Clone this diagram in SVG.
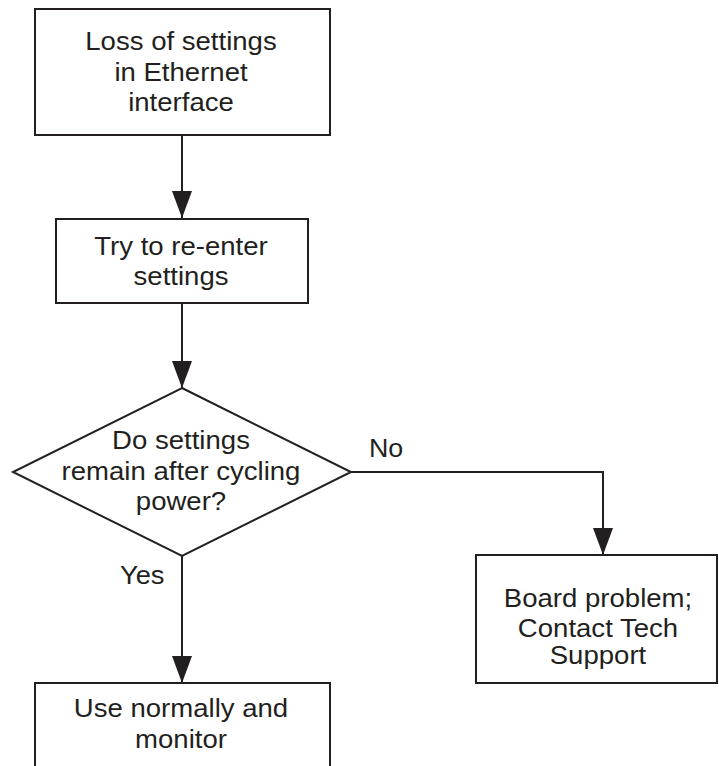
<svg xmlns="http://www.w3.org/2000/svg" width="719" height="766" viewBox="0 0 719 766">
<style>
.n{fill:#fff;stroke:#231f20;stroke-width:2}
.c{fill:none;stroke:#231f20;stroke-width:2}
text{font-family:"Liberation Sans",Arial,sans-serif;font-size:26px;fill:#231f20}
.m{text-anchor:middle}
</style>
<defs>
<marker id="ah" markerUnits="userSpaceOnUse" markerWidth="28" markerHeight="22" refX="27" refY="10" orient="auto">
<path d="M0,0 L27,10 L0,20 Z" fill="#231f20"/>
</marker>
</defs>
<rect width="719" height="766" fill="#fff"/>
<g id="connectors">
<line class="c" x1="182" y1="135" x2="182" y2="218" marker-end="url(#ah)"/>
<line class="c" x1="182" y1="303" x2="182" y2="388" marker-end="url(#ah)"/>
<polyline class="c" points="351,472 603,472 603,555" marker-end="url(#ah)"/>
<line class="c" x1="182" y1="556" x2="182" y2="683" marker-end="url(#ah)"/>
<text transform="translate(369,457) scale(1.03,1)">No</text>
<text transform="translate(120,584) scale(1.05,1)">Yes</text>
</g>
<g id="n1">
<rect class="n" x="35" y="9" width="295" height="126"/>
<g transform="translate(181,0) scale(1.06,1)">
<text class="m" x="0" y="50">Loss of settings</text>
<text class="m" x="0" y="81">in Ethernet</text>
<text class="m" x="0" y="111">interface</text>
</g>
</g>
<g id="n2">
<rect class="n" x="56" y="219" width="252" height="84"/>
<g transform="translate(181,0) scale(1.06,1)">
<text class="m" x="0" y="255">Try to re-enter</text>
<text class="m" x="0" y="285">settings</text>
</g>
</g>
<g id="n3">
<polygon class="n" points="182,388 351,472 182,556 13,472"/>
<g transform="translate(181,0) scale(1.06,1)">
<text class="m" x="0" y="449">Do settings</text>
<text class="m" x="0" y="480">remain after cycling</text>
<text class="m" x="0" y="510">power?</text>
</g>
</g>
<g id="n4">
<rect class="n" x="476" y="555" width="241" height="128"/>
<g transform="translate(598,0) scale(1.06,1)">
<text class="m" x="0" y="607">Board problem;</text>
<text class="m" x="0" y="637">Contact Tech</text>
<text class="m" x="0" y="664">Support</text>
</g>
</g>
<g id="n5">
<rect class="n" x="35" y="683" width="295" height="100"/>
<g transform="translate(181,0) scale(1.06,1)">
<text class="m" x="0" y="717">Use normally and</text>
<text class="m" x="0" y="748">monitor</text>
</g>
</g>
</svg>
